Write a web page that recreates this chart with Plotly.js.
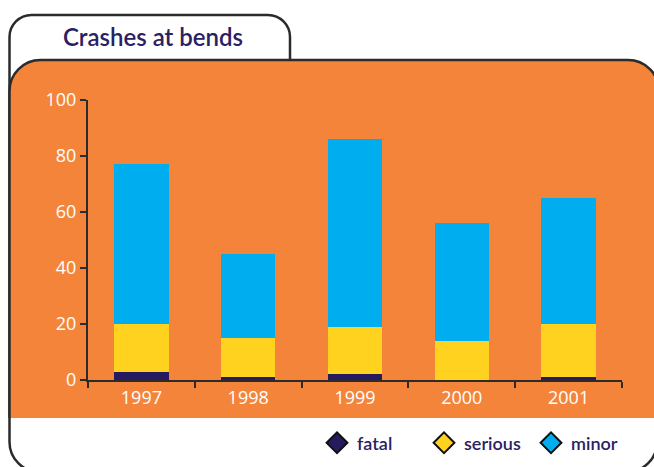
<!DOCTYPE html>
<html><head><meta charset="utf-8">
<script src="https://cdn.plot.ly/plotly-3.0.1.min.js"></script>
<style>html,body{margin:0;padding:0;background:#fff;}#chart{width:654px;height:467px;}</style>
</head><body><div id="chart"></div>
<script>
const years = ['1997','1998','1999','2000','2001'];
const fatal = [3, 1, 2, 0, 1];
const serious = [17, 14, 17, 14, 19];
const minor = [57, 30, 67, 42, 45];
const yTicks = [0, 20, 40, 60, 80, 100];

const NAVY = '#251B5E', YELLOW = '#FFD220', BLUE = '#00AEEF', ORANGE = '#F5843B', LINE = '#2b2b2b';
const W = 654, H = 467, L = 88, R = 32, T = 100, B = 87;
const pw = W - L - R, ph = H - T - B;
const X = px => ((px - L) / pw).toFixed(5);
const Y = py => ((H - B - py) / ph).toFixed(5);
const P = (px, py) => X(px) + ',' + Y(py);
const k = 0.4477;
function corner(x0, y0, x1, y1, cx, cy) {
  const c1x = x0 + (cx - x0) * (1 - k), c1y = y0 + (cy - y0) * (1 - k);
  const c2x = x1 + (cx - x1) * (1 - k), c2y = y1 + (cy - y1) * (1 - k);
  return ' C ' + P(c1x, c1y) + ' ' + P(c2x, c2y) + ' ' + P(x1, y1);
}
const lx = 9.5, tabR = 290, tabTop = 15, rt = 22, panelTop = 60, rr = 31, rightX = 657, botY = 472, panelBot = 418, rb = 30;

const outerPath = 'M ' + P(tabR, panelTop) + ' L ' + P(tabR, tabTop + rt) + corner(tabR, tabTop + rt, tabR - rt, tabTop, tabR, tabTop)
  + ' L ' + P(lx + rt, tabTop) + corner(lx + rt, tabTop, lx, tabTop + rt, lx, tabTop)
  + ' L ' + P(lx, botY - rb) + corner(lx, botY - rb, lx + rb, botY, lx, botY)
  + ' L ' + P(rightX - rb, botY) + corner(rightX - rb, botY, rightX, botY - rb, rightX, botY)
  + ' L ' + P(rightX, panelTop);
const panelEdge = 'M ' + P(lx, panelBot) + ' L ' + P(lx, panelTop + rr) + corner(lx, panelTop + rr, lx + rr, panelTop, lx, panelTop)
  + ' L ' + P(rightX + 2 - rr, panelTop) + corner(rightX + 2 - rr, panelTop, rightX + 2, panelTop + rr, rightX + 2, panelTop)
  + ' L ' + P(rightX + 2, panelBot);

const shapes = [
  {type: 'path', xref: 'paper', yref: 'paper', layer: 'below', path: outerPath + ' Z', fillcolor: '#ffffff', line: {width: 0}},
  {type: 'path', xref: 'paper', yref: 'paper', layer: 'below', path: outerPath, fillcolor: 'rgba(0,0,0,0)', line: {color: LINE, width: 2.5}},
  {type: 'path', xref: 'paper', yref: 'paper', layer: 'below', path: panelEdge + ' Z', fillcolor: ORANGE, line: {width: 0}},
  {type: 'path', xref: 'paper', yref: 'paper', layer: 'below', path: panelEdge, fillcolor: 'rgba(0,0,0,0)', line: {color: LINE, width: 2.5}}
];

const traces = [
  {type: 'bar', x: years, y: fatal, name: 'fatal', marker: {color: NAVY}, showlegend: false, hoverinfo: 'skip'},
  {type: 'bar', x: years, y: serious, name: 'serious', marker: {color: YELLOW}, showlegend: false, hoverinfo: 'skip'},
  {type: 'bar', x: years, y: minor, name: 'minor', marker: {color: BLUE}, showlegend: false, hoverinfo: 'skip'},
  {type: 'scatter', mode: 'markers', x: [null], y: [null], name: 'fatal', marker: {symbol: 'diamond', size: 16, color: NAVY, line: {color: '#111', width: 2}}},
  {type: 'scatter', mode: 'markers', x: [null], y: [null], name: 'serious', marker: {symbol: 'diamond', size: 16, color: YELLOW, line: {color: '#111', width: 2}}},
  {type: 'scatter', mode: 'markers', x: [null], y: [null], name: 'minor', marker: {symbol: 'diamond', size: 16, color: BLUE, line: {color: '#111', width: 2}}}
];

const layout = {
  width: W, height: H,
  margin: {l: L, r: R, t: T, b: B, pad: 0, autoexpand: false},
  paper_bgcolor: '#ffffff', plot_bgcolor: 'rgba(0,0,0,0)',
  barmode: 'stack', bargap: 0.49,
  font: {family: 'Open Sans, sans-serif'},
  title: {text: 'Crashes at bends', xref: 'container', yref: 'container', x: 153 / W, xanchor: 'center', y: 1 - 38 / H, yanchor: 'middle',
          font: {family: 'Lato, sans-serif', size: 24, color: '#2A2163', weight: 600}},
  xaxis: {type: 'category', categoryarray: years, tickson: 'boundaries', ticks: 'outside', ticklen: 6, tickwidth: 2, tickcolor: LINE,
          showline: true, linecolor: LINE, linewidth: 2, showgrid: false, zeroline: false, fixedrange: true,
          tickfont: {color: '#ffffff', size: 18, family: 'Open Sans, sans-serif', weight: 500}},
  yaxis: {range: [0, 100], tickvals: yTicks, ticktext: yTicks.map(String), ticks: 'outside', ticklen: 6, tickwidth: 2, tickcolor: LINE,
          showline: true, linecolor: LINE, linewidth: 2, showgrid: false, zeroline: false, fixedrange: true,
          tickfont: {color: '#ffffff', size: 18, family: 'Open Sans, sans-serif', weight: 500}},
  legend: {orientation: 'h', traceorder: 'normal', xref: 'container', yref: 'container', x: 317 / W, xanchor: 'left', y: 1 - 443 / H, yanchor: 'middle',
           bgcolor: 'rgba(0,0,0,0)', font: {family: 'Lato, sans-serif', size: 18, color: '#2A2163', weight: 600},
           entrywidth: 62, entrywidthmode: 'pixels'},
  shapes: shapes,
  showlegend: true
};

Plotly.newPlot('chart', traces, layout, {displayModeBar: false, staticPlot: true});
</script></body></html>
